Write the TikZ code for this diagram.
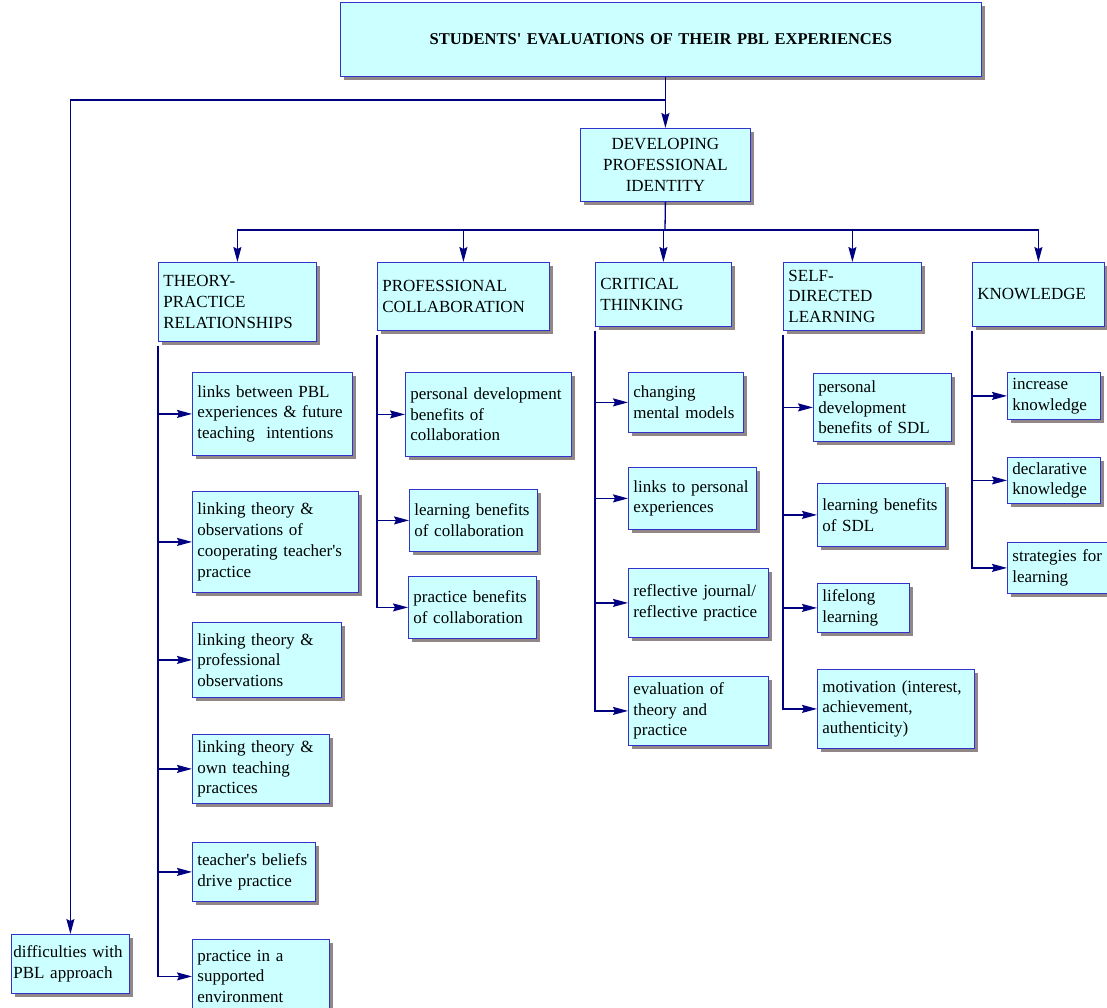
\documentclass[tikz,border=0pt]{standalone}
\usepackage{fontspec}
\setmainfont{Liberation Serif}
\usetikzlibrary{positioning}
\usetikzlibrary{shadows}
\usetikzlibrary{arrows.meta}
\definecolor{boxfill}{RGB}{204,255,255}
\definecolor{boxline}{RGB}{51,51,204}
\definecolor{linkline}{RGB}{0,0,128}
\definecolor{shadowgray}{RGB}{145,135,135}
\tikzset{
  box/.style={draw=boxline, fill=boxfill, line width=0.8pt, anchor=north west,
    inner xsep=5pt, inner ysep=2pt, align=left, font=\fontsize{17}{20.7}\selectfont,
    drop shadow={shadow xshift=4pt, shadow yshift=-4pt, fill=shadowgray, opacity=1}},
  conn/.style={draw=linkline, line width=1.3pt},
  arrowconn/.style={conn, -{Stealth[length=15pt,width=8pt,inset=2pt]}}
}

\begin{document}
\begin{tikzpicture}[x=1pt, y=-1pt]
  \useasboundingbox (0,0) rectangle (1107,1007);

  % top of the tree
  \node[box, align=center, text width=631pt, minimum height=74pt,
    font=\fontsize{16.5}{20}\selectfont\bfseries] (title) at (340,2)
    {STUDENTS\textquotesingle{} EVALUATIONS OF THEIR PBL EXPERIENCES};
  \node[box, align=center, text width=160pt, minimum height=73pt] (dev) at (580,128)
    {DEVELOPING\\PROFESSIONAL\\IDENTITY};
  \node[box, inner xsep=2pt, text width=114pt, minimum height=59pt] (diff) at (11,934)
    {difficulties with\\PBL approach};

  % themes
  \node[box, text width=148pt, minimum height=79pt] (tp) at (158,262) {THEORY-\\PRACTICE\\RELATIONSHIPS};
  \node[box, text width=162pt, minimum height=68pt] (pc) at (377,262) {PROFESSIONAL\\COLLABORATION};
  \node[box, text width=126pt, minimum height=64pt] (ct) at (595,262) {CRITICAL\\THINKING};
  \node[box, text width=128pt, minimum height=68pt] (sdl) at (783,262) {SELF-\\DIRECTED\\LEARNING};
  \node[box, text width=122pt, minimum height=64pt] (kn) at (972,262) {KNOWLEDGE};

  % theory-practice
  \node[box, text width=150pt, minimum height=83pt] (tp1) at (192,372) {links between PBL\\experiences \& future\\teaching~ intentions};
  \node[box, text width=156pt, minimum height=101pt] (tp2) at (192,491) {linking theory \&\\observations of\\cooperating teacher\textquotesingle s\\practice};
  \node[box, text width=139pt, minimum height=75pt] (tp3) at (192,622) {linking theory \&\\professional\\observations};
  \node[box, text width=127pt, minimum height=69pt] (tp4) at (192,734) {linking theory \&\\own teaching\\practices};
  \node[box, text width=113pt, minimum height=59pt] (tp5) at (192,842) {teacher\textquotesingle s beliefs\\drive practice};
  \node[box, text width=127pt, minimum height=74pt] (tp6) at (192,939) {practice in a\\supported\\environment};

  % collaboration
  \node[box, text width=156pt, minimum height=84pt] (pc1) at (405,372) {personal development\\benefits of\\collaboration};
  \node[box, text width=118pt, minimum height=62pt] (pc2) at (409,489) {learning benefits\\of collaboration};
  \node[box, text width=118pt, minimum height=62pt] (pc3) at (408,576) {practice benefits\\of collaboration};

  % critical thinking
  \node[box, text width=105pt, minimum height=60pt] (ct1) at (628,372) {changing\\mental models};
  \node[box, text width=118pt, minimum height=62pt] (ct2) at (628,467) {links to personal\\experiences};
  \node[box, text width=130pt, minimum height=69pt] (ct3) at (628,568) {reflective journal/\\reflective practice};
  \node[box, text width=130pt, minimum height=69pt] (ct4) at (628,676) {evaluation of\\theory and\\practice};

  % self-directed learning
  \node[box, text width=128pt, minimum height=68pt] (sdl1) at (813,373) {personal\\development\\benefits of SDL};
  \node[box, text width=118pt, minimum height=63pt] (sdl2) at (817,483) {learning benefits\\of SDL};
  \node[box, text width=82pt, minimum height=49pt] (sdl3) at (817,583) {lifelong\\learning};
  \node[box, text width=147pt, minimum height=79pt] (sdl4) at (817,669) {motivation (interest,\\achievement,\\authenticity)};

  % knowledge
  \node[box, text width=83pt, minimum height=47pt] (kn1) at (1007,372) {increase\\knowledge};
  \node[box, text width=83pt, minimum height=46pt] (kn2) at (1007,457) {declarative\\knowledge};
  \node[box, text width=100pt, minimum height=51pt] (kn3) at (1007,542) {strategies for\\learning};

  % connectors
  \coordinate (split) at (665,100);
  \coordinate (bus) at (665,230);
  \draw[arrowconn] (title.south -| dev.north) -- (dev.north);
  \draw[arrowconn] (split) -| (diff.north);
  \draw[conn] (dev.south) -- (bus);
  \foreach \n in {tp,pc,ct,sdl,kn}
    \draw[arrowconn] (bus) -| (\n.north);

  \foreach \i in {1,...,6}
    \draw[arrowconn] ([yshift=-4pt]tp.south west) |- (tp\i.west);
  \foreach \i in {1,2,3}
    \draw[arrowconn] ([yshift=-4pt]pc.south west) |- (pc\i.west);
  \foreach \i in {1,...,4}
    \draw[arrowconn] ([yshift=-4pt]ct.south west) |- (ct\i.west);
  \foreach \i in {1,...,4}
    \draw[arrowconn] ([yshift=-4pt]sdl.south west) |- (sdl\i.west);
  \foreach \i in {1,2,3}
    \draw[arrowconn] ([yshift=-4pt]kn.south west) |- (kn\i.west);
\end{tikzpicture}
\end{document}
